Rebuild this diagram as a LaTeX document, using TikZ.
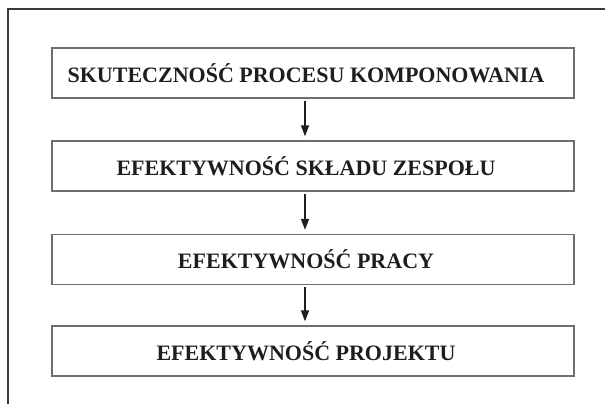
\documentclass[tikz,border=0pt]{standalone}
\usepackage{fontspec}
\setmainfont{Liberation Serif}
\usetikzlibrary{arrows.meta}
\definecolor{boxline}{HTML}{6E6E6E}
\definecolor{frameline}{HTML}{3A3A3A}
\definecolor{ink}{HTML}{1E1E1E}
\begin{document}
\begin{tikzpicture}[x=1bp,y=-1bp,
  stagebox/.style={draw=boxline, line width=1.3bp, minimum width=522bp,
    minimum height=50bp, inner sep=0pt},
  caption/.style={font=\fontsize{22bp}{26bp}\selectfont\bfseries, text=ink,
    text height=14.6bp, text depth=0pt, inner sep=0pt,
    xshift=-7bp, yshift=-2bp},
  flow/.style={draw=ink, line width=1.3bp,
    -{Triangle[length=11bp,width=8bp]}, shorten <=2bp, shorten >=4bp}]
  \useasboundingbox (0,0) rectangle (605,405);

  % outer frame: top and left edges only
  \coordinate (ftr) at (605,9);
  \coordinate (ftl) at (8,9);
  \coordinate (fbl) at (8,404);
  \draw[frameline, line width=1.1bp] (ftr) -- (ftl) -- (fbl);

  % stages of the chain
  \node[stagebox, label={[caption]center:SKUTECZNOŚĆ PROCESU KOMPONOWANIA}] (b1) at (313,73) {};
  \node[stagebox, label={[caption]center:EFEKTYWNOŚĆ SKŁADU ZESPOŁU}] (b2) at (313,166) {};
  \node[stagebox, label={[caption]center:EFEKTYWNOŚĆ PRACY}] (b3) at (313,259.5) {};
  \node[stagebox, label={[caption]center:EFEKTYWNOŚĆ PROJEKTU}] (b4) at (313,351) {};

  % downward links
  \draw[flow] ([xshift=-8bp]b1.south) -- ([xshift=-8bp]b2.north);
  \draw[flow] ([xshift=-8bp]b2.south) -- ([xshift=-8bp]b3.north);
  \draw[flow] ([xshift=-8bp]b3.south) -- ([xshift=-8bp]b4.north);
\end{tikzpicture}
\end{document}
